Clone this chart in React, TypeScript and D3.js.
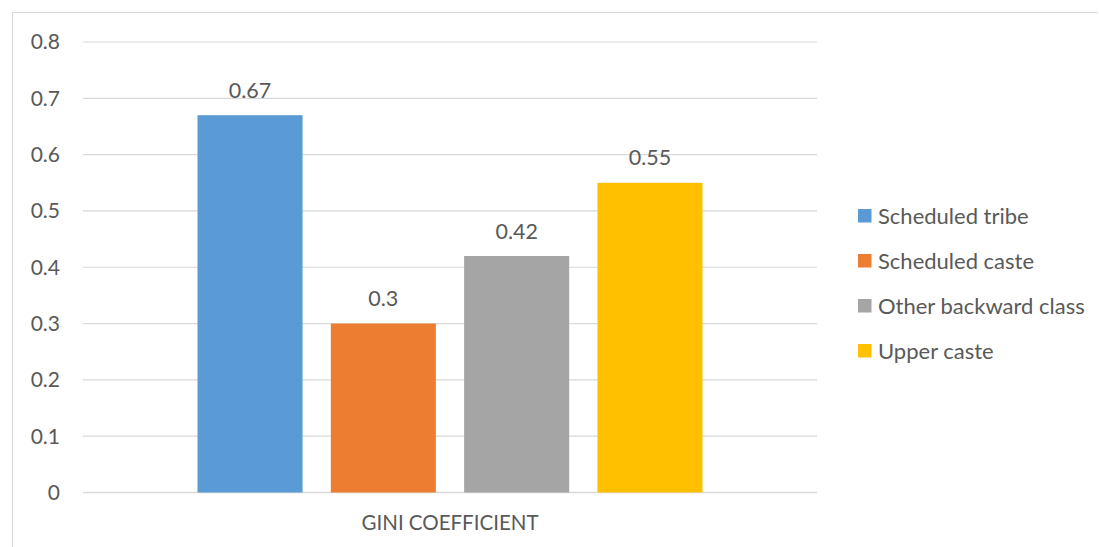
import React from "react";
import * as d3 from "d3";

const categories = ["Scheduled tribe", "Scheduled caste", "Other backward class", "Upper caste"];
const values = [0.67, 0.3, 0.42, 0.55];
const colors = ["#5b9bd5", "#ed7d31", "#a5a5a5", "#ffc000"];
const yTicks = [0, 0.1, 0.2, 0.3, 0.4, 0.5, 0.6, 0.7, 0.8];
const groupLabel = "GINI COEFFICIENT";

const W = 1099;
const H = 547;
const FONT = "Lato, 'Open Sans', sans-serif";
const TXT = "#595959";

export default function App() {
  const plotLeft = 83;
  const plotRight = 817;
  const y = d3.scaleLinear().domain([0, 0.8]).range([492.5, 42]);
  const group = d3.scaleBand().domain([groupLabel]).range([plotLeft, plotRight]).paddingInner(0).paddingOuter(0);
  const gx = group(groupLabel)!;
  const gw = group.bandwidth();
  const innerW = 505; // width occupied by the bars cluster
  const x = d3
    .scaleBand()
    .domain(categories)
    .range([gx + (gw - innerW) / 2, gx + (gw + innerW) / 2])
    .paddingInner(0.212)
    .paddingOuter(0);

  return (
    <svg
      width={W}
      height={H}
      style={{ position: "absolute", left: 0, top: 0, display: "block" }}
      fontFamily={FONT}
    >
      <rect x={0} y={0} width={W} height={H} fill="#fff" />
      {/* chart border */}
      <line x1={12.5} y1={12.5} x2={1098} y2={12.5} stroke="#d9d9d9" strokeWidth={1.2} />
      <line x1={12.5} y1={12.5} x2={12.5} y2={H} stroke="#d9d9d9" strokeWidth={1.2} />

      {yTicks.map((t) => (
        <g key={t}>
          <line
            x1={plotLeft}
            x2={plotRight}
            y1={y(t)}
            y2={y(t)}
            stroke="#d9d9d9"
            strokeWidth={t === 0 ? 1.5 : 1.2}
          />
          <text
            x={60}
            y={y(t)}
            dy="0.35em"
            textAnchor="end"
            fontSize={21}
            fill={TXT}
          >
            {t === 0 ? "0" : d3.format(".1f")(t)}
          </text>
        </g>
      ))}

      {categories.map((c, i) => (
        <g key={c}>
          <rect
            x={x(c)!}
            y={y(values[i])}
            width={x.bandwidth()}
            height={y(0) - y(values[i])}
            fill={colors[i]}
          />
          <text
            x={x(c)! + x.bandwidth() / 2}
            y={y(values[i]) - 25}
            dy="0.35em"
            textAnchor="middle"
            fontSize={21.5}
            fill={TXT}
          >
            {String(values[i])}
          </text>
        </g>
      ))}

      <text x={gx + gw / 2} y={523} dy="0.35em" textAnchor="middle" fontSize={20.5} fill={TXT}>
        {groupLabel}
      </text>

      {categories.map((c, i) => (
        <g key={c} transform={`translate(858, ${216 + i * 45})`}>
          <rect x={0} y={-7} width={13.5} height={13.5} fill={colors[i]} />
          <text x={20} y={0} dy="0.35em" fontSize={22} fill={TXT}>
            {c}
          </text>
        </g>
      ))}
    </svg>
  );
}
